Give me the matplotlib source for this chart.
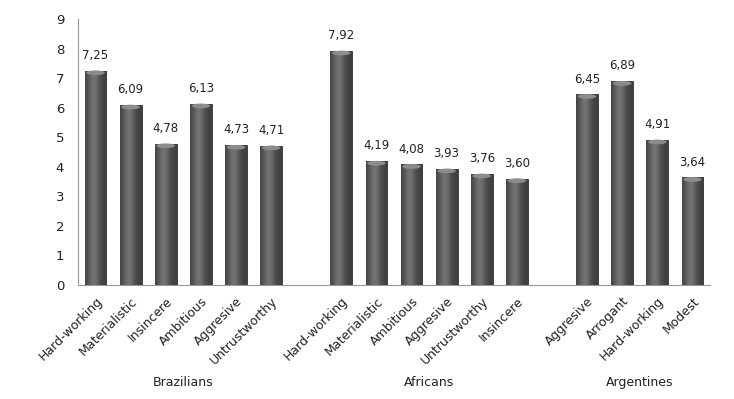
import numpy as np
import matplotlib
matplotlib.use("Agg")
import matplotlib.pyplot as plt

# Data
groups = ["Brazilians", "Africans", "Argentines"]
brazil_labels = ["Hard-working", "Materialistic", "Insincere", "Ambitious", "Aggresive", "Untrustworthy"]
brazil_values = [7.25, 6.09, 4.78, 6.13, 4.73, 4.71]
africa_labels = ["Hard-working", "Materialistic", "Ambitious", "Aggresive", "Untrustworthy", "Insincere"]
africa_values = [7.92, 4.19, 4.08, 3.93, 3.76, 3.60]
argent_labels = ["Aggresive", "Arrogant", "Hard-working", "Modest"]
argent_values = [6.45, 6.89, 4.91, 3.64]

# positions with one empty slot between groups
pos, labels, values, centers = [], [], [], []
start = 0
for labs, vals in [(brazil_labels, brazil_values), (africa_labels, africa_values), (argent_labels, argent_values)]:
    p = list(range(start, start + len(vals)))
    pos += p
    labels += labs
    values += vals
    centers.append((p[0] + p[-1]) / 2)
    start = p[-1] + 2

fig = plt.figure(figsize=(7.34, 3.99), dpi=100)
ax = fig.add_axes([78 / 734, 1 - 285 / 399, 632 / 734, 266 / 399])

width = 0.62
bars = ax.bar(pos, values, width=width, color="#505050", edgecolor="#333333", linewidth=0.6, zorder=2)

# cylinder-like shading
grad = np.linspace(0, 1, 64)
shade = 0.25 + 0.2 * np.exp(-((grad - 0.4) / 0.28) ** 2)
img = np.tile(shade, (2, 1))
for b in bars:
    x0, w, h = b.get_x(), b.get_width(), b.get_height()
    im = ax.imshow(img, cmap="gray", vmin=0, vmax=1, extent=[x0, x0 + w, 0, h],
                   aspect="auto", zorder=3, interpolation="bicubic")
    im.set_clip_path(b)
    cap = matplotlib.patches.Ellipse((x0 + w / 2, h - 0.07), w * 0.85, 0.16,
                                     facecolor="#8c8c8c", edgecolor="none", zorder=4)
    ax.add_patch(cap)

for x, v in zip(pos, values):
    ax.text(x, v + 0.3, f"{v:.2f}".replace(".", ","), ha="center", va="bottom",
            fontsize=8.5, color="#222222")

ax.set_xlim(-0.5, 17.5)
ax.set_ylim(0, 9)
ax.set_yticks(range(10))
ax.tick_params(axis="y", length=0, labelsize=9.5, pad=10, colors="#222222")
ax.set_xticks(pos)
ax.set_xticklabels(labels, rotation=45, ha="right", rotation_mode="anchor", fontsize=9)
ax.tick_params(axis="x", length=0, pad=7, colors="#222222")

for s in ["top", "right"]:
    ax.spines[s].set_visible(False)
ax.spines["left"].set_color("#999999")
ax.spines["bottom"].set_color("#999999")

for c, g in zip(centers, groups):
    ax.text(c, -3.3, g, ha="center", va="center", fontsize=9, color="#222222")

fig.savefig("out.png", dpi=100)
